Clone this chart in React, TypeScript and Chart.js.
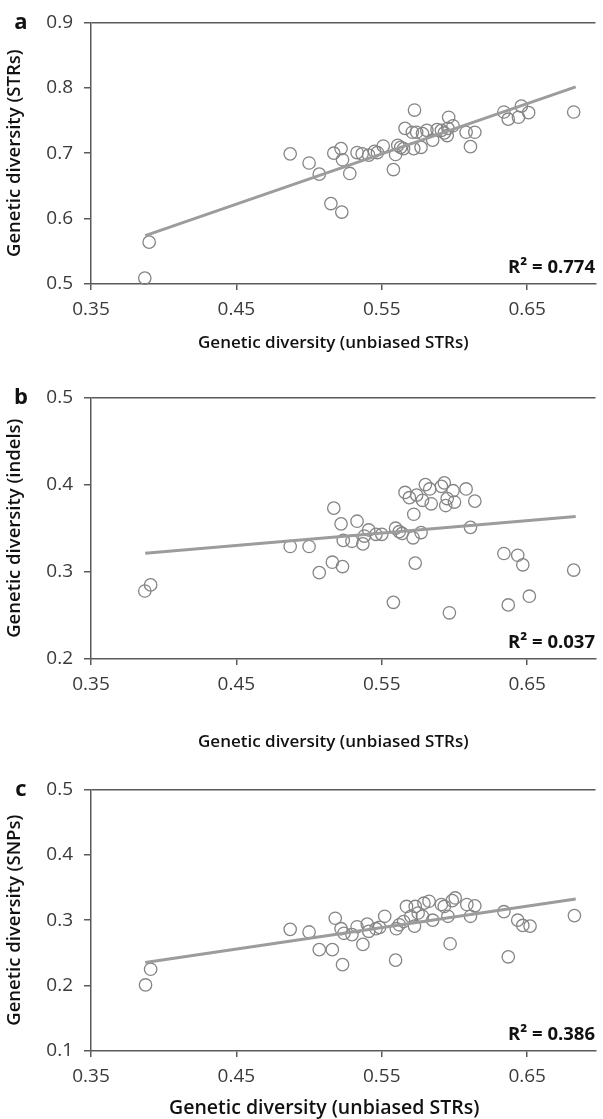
import React, { useEffect, useRef } from "react";
import { Chart, registerables } from "chart.js";

Chart.register(...registerables);

// ---- shared x axis ----
const xTicks = [0.35, 0.45, 0.55, 0.65];
const xMin = 0.35;
const xMax = 0.697;
const trendX = [0.3873, 0.6834];

// ---- panel a : STRs ----
const yTicksA = [0.5, 0.6, 0.7, 0.8, 0.9];
const xA = [0.387, 0.39, 0.487, 0.5, 0.507, 0.515, 0.517, 0.522, 0.5225, 0.523, 0.528, 0.533, 0.5365, 0.541, 0.545, 0.547, 0.551, 0.558, 0.5595, 0.561, 0.563, 0.565, 0.566, 0.571, 0.5725, 0.572, 0.574, 0.577, 0.578, 0.581, 0.585, 0.588, 0.591, 0.593, 0.595, 0.596, 0.5955, 0.599, 0.608, 0.611, 0.614, 0.634, 0.637, 0.644, 0.646, 0.651, 0.682];
const yA = [0.509, 0.564, 0.699, 0.685, 0.668, 0.623, 0.7, 0.707, 0.61, 0.69, 0.669, 0.701, 0.699, 0.697, 0.703, 0.701, 0.711, 0.675, 0.698, 0.712, 0.709, 0.707, 0.738, 0.732, 0.766, 0.707, 0.732, 0.709, 0.73, 0.735, 0.72, 0.736, 0.735, 0.731, 0.727, 0.755, 0.738, 0.742, 0.732, 0.71, 0.732, 0.763, 0.752, 0.755, 0.772, 0.762, 0.763];
const trendA = [0.574, 0.8015];

// ---- panel b : indels ----
const yTicksB = [0.2, 0.3, 0.4, 0.5];
const xB = [0.387, 0.391, 0.487, 0.5, 0.507, 0.516, 0.517, 0.522, 0.523, 0.5235, 0.5295, 0.533, 0.537, 0.538, 0.541, 0.546, 0.55, 0.558, 0.5595, 0.562, 0.564, 0.566, 0.569, 0.5715, 0.572, 0.573, 0.574, 0.577, 0.578, 0.58, 0.583, 0.584, 0.591, 0.593, 0.594, 0.595, 0.5965, 0.599, 0.6, 0.608, 0.611, 0.614, 0.634, 0.637, 0.6435, 0.647, 0.6515, 0.682];
const yB = [0.278, 0.285, 0.329, 0.329, 0.299, 0.311, 0.373, 0.355, 0.306, 0.336, 0.335, 0.358, 0.332, 0.341, 0.348, 0.343, 0.343, 0.265, 0.35, 0.346, 0.344, 0.391, 0.385, 0.339, 0.366, 0.31, 0.388, 0.345, 0.382, 0.4, 0.395, 0.378, 0.398, 0.402, 0.376, 0.384, 0.253, 0.393, 0.38, 0.395, 0.351, 0.381, 0.321, 0.262, 0.319, 0.308, 0.272, 0.302];
const trendB = [0.3212, 0.3633];

// ---- panel c : SNPs ----
const yTicksC = [0.1, 0.2, 0.3, 0.4, 0.5];
const xC = [0.3875, 0.391, 0.487, 0.5, 0.507, 0.516, 0.518, 0.522, 0.523, 0.524, 0.5295, 0.533, 0.537, 0.54, 0.541, 0.546, 0.5485, 0.552, 0.5595, 0.56, 0.562, 0.565, 0.567, 0.57, 0.5725, 0.573, 0.575, 0.578, 0.579, 0.5825, 0.585, 0.591, 0.593, 0.5955, 0.597, 0.5985, 0.6005, 0.6085, 0.611, 0.614, 0.634, 0.637, 0.6435, 0.647, 0.652, 0.6825];
const yC = [0.201, 0.225, 0.286, 0.282, 0.255, 0.255, 0.303, 0.287, 0.232, 0.28, 0.278, 0.29, 0.263, 0.294, 0.283, 0.287, 0.289, 0.306, 0.239, 0.287, 0.293, 0.298, 0.321, 0.306, 0.291, 0.321, 0.311, 0.306, 0.326, 0.329, 0.3, 0.324, 0.321, 0.306, 0.264, 0.33, 0.334, 0.324, 0.306, 0.322, 0.313, 0.244, 0.3, 0.292, 0.291, 0.307];
const trendC = [0.2352, 0.3325];

// ---- text ----
const xTitle = "Genetic diversity (unbiased STRs)";
const yTitles = ["Genetic diversity (STRs)", "Genetic diversity (indels)", "Genetic diversity (SNPs)"];
const letters = ["a", "b", "c"];
const r2Labels = ["R² = 0.774", "R² = 0.037", "R² = 0.386"];

const FONT = "'Open Sans', sans-serif";
const AXIS = "#5a5a5a";

type PanelCfg = {
  letter: string;
  yTitle: string;
  r2: string;
  xs: number[];
  ys: number[];
  trend: number[];
  yTicks: number[];
  top: number;
  height: number;
  xTitleLeft: number;
  xTitleBase: number;
  xTitleSize: number;
};

const PLOT_TOP = 20;
const PLOT_BOTTOM = 284;
const PLOT_LEFT = 91;

const panels: PanelCfg[] = [
  { letter: letters[0], yTitle: yTitles[0], r2: r2Labels[0], xs: xA, ys: yA, trend: trendA, yTicks: yTicksA, top: 0, height: 360, xTitleLeft: 198, xTitleBase: 348, xTitleSize: 17 },
  { letter: letters[1], yTitle: yTitles[1], r2: r2Labels[1], xs: xB, ys: yB, trend: trendB, yTicks: yTicksB, top: 375, height: 380, xTitleLeft: 198, xTitleBase: 372, xTitleSize: 17 },
  { letter: letters[2], yTitle: yTitles[2], r2: r2Labels[2], xs: xC, ys: yC, trend: trendC, yTicks: yTicksC, top: 767, height: 360, xTitleLeft: 169, xTitleBase: 347, xTitleSize: 19.5 },
];

function Panel({ p }: { p: PanelCfg }) {
  const ref = useRef<HTMLCanvasElement | null>(null);
  useEffect(() => {
    if (!ref.current) return;
    const textPlugin = {
      id: "panelText",
      afterDraw(chart: any) {
        const { ctx, chartArea } = chart;
        ctx.save();
        ctx.fillStyle = "#111";
        ctx.textBaseline = "alphabetic";
        ctx.font = `bold 22px ${FONT}`;
        ctx.textAlign = "center";
        ctx.fillText(p.letter, 21, chartArea.top + 7);
        ctx.font = `bold 18.5px ${FONT}`;
        ctx.textAlign = "right";
        ctx.fillText(p.r2, 595, chartArea.bottom - 11);
        ctx.font = `600 ${p.xTitleSize}px ${FONT}`;
        ctx.textAlign = "left";
        ctx.fillText(xTitle, p.xTitleLeft, p.xTitleBase);
        ctx.restore();
      },
    };
    const yLast = p.yTicks.length - 1;
    const chart = new Chart(ref.current, {
      type: "scatter",
      data: {
        datasets: [
          {
            label: "trend",
            data: trendX.map((x, i) => ({ x, y: p.trend[i] })),
            showLine: true,
            borderColor: "#9c9c9c",
            borderWidth: 3,
            pointRadius: 0,
            clip: false,
          } as any,
          {
            label: "populations",
            data: p.xs.map((x, i) => ({ x, y: p.ys[i] })),
            showLine: false,
            pointRadius: 6.2,
            pointBorderWidth: 1.3,
            borderColor: "#858585",
            backgroundColor: "rgba(0,0,0,0)",
            pointBackgroundColor: "rgba(0,0,0,0)",
            pointBorderColor: "#858585",
            clip: false,
          } as any,
        ],
      },
      options: {
        animation: false,
        responsive: false,
        devicePixelRatio: 1,
        events: [],
        layout: { padding: { top: PLOT_TOP, left: 0, right: 0, bottom: 0 } },
        plugins: { legend: { display: false }, tooltip: { enabled: false } },
        scales: {
          x: {
            type: "linear",
            min: xMin,
            max: xMax,
            afterBuildTicks: (s: any) => {
              s.ticks = xTicks.map((v) => ({ value: v }));
            },
            afterFit: (s: any) => {
              s.height = p.height - PLOT_BOTTOM;
            },
            ticks: {
              color: "#3a3a3a",
              font: { family: FONT, size: 19 },
              padding: 8,
              maxRotation: 0,
              autoSkip: false,
              callback: (v: any) => Number(v).toFixed(2),
            },
            grid: { display: true, drawOnChartArea: false, drawTicks: true, tickLength: 6, color: AXIS, tickColor: AXIS, lineWidth: 1.5 },
            border: { display: true, color: AXIS, width: 1.5 },
            title: { display: false },
          },
          y: {
            type: "linear",
            min: p.yTicks[0],
            max: p.yTicks[yLast],
            afterBuildTicks: (s: any) => {
              s.ticks = p.yTicks.map((v) => ({ value: v }));
            },
            afterFit: (s: any) => {
              s.width = PLOT_LEFT;
            },
            ticks: {
              color: "#3a3a3a",
              font: { family: FONT, size: 19 },
              padding: 11,
              autoSkip: false,
              callback: (v: any) => Number(v).toFixed(1),
            },
            grid: {
              display: true,
              drawOnChartArea: true,
              drawTicks: true,
              tickLength: 7,
              lineWidth: 1.5,
              tickColor: AXIS,
              color: (c: any) => (c.index === yLast ? AXIS : "rgba(0,0,0,0)"),
            },
            border: { display: true, color: AXIS, width: 1.5 },
            title: {
              display: true,
              text: p.yTitle,
              color: "#111",
              font: { family: FONT, size: 18.5, weight: "600" },
              padding: { top: 4, bottom: 0 },
            },
          },
        },
      },
      plugins: [textPlugin],
    } as any);
    return () => chart.destroy();
  }, [p]);
  return (
    <canvas
      ref={ref}
      width={603}
      height={p.height}
      style={{ position: "absolute", left: 0, top: p.top, width: 603, height: p.height, display: "block" }}
    />
  );
}

export default function App() {
  return (
    <div
      style={{
        position: "absolute",
        left: 0,
        top: 0,
        width: 603,
        height: 1119,
        overflow: "hidden",
        background: "#fff",
      }}
    >
      {panels.map((p) => (
        <Panel key={p.letter} p={p} />
      ))}
    </div>
  );
}
